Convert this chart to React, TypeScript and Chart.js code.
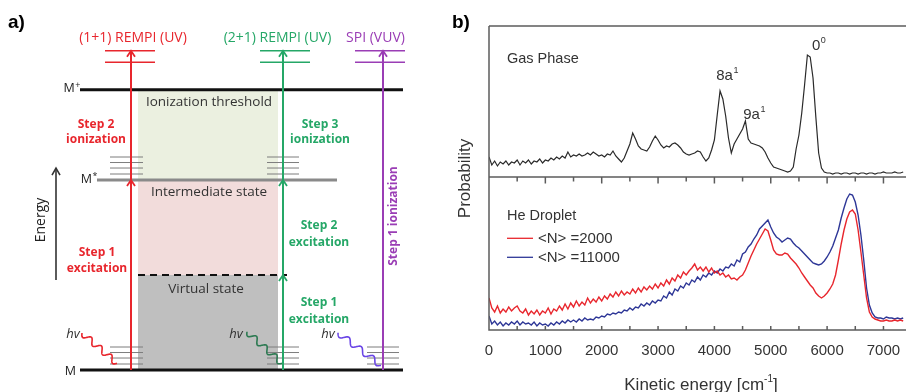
import React, { useEffect, useRef } from 'react';
import { Chart, registerables } from 'chart.js';
Chart.register(...registerables);

// ---------------- Panel b) data ----------------
const energy = [
  0, 50, 100, 150, 200, 250, 300, 350, 400, 450,
  500, 550, 600, 650, 700, 750, 800, 850, 900, 950,
  1000, 1050, 1100, 1150, 1200, 1250, 1300, 1350, 1400, 1450,
  1500, 1550, 1600, 1650, 1700, 1750, 1800, 1850, 1900, 1950,
  2000, 2050, 2100, 2150, 2200, 2250, 2300, 2350, 2400, 2450,
  2500, 2550, 2600, 2650, 2700, 2750, 2800, 2850, 2900, 2950,
  3000, 3050, 3100, 3150, 3200, 3250, 3300, 3350, 3400, 3450,
  3500, 3550, 3600, 3650, 3700, 3750, 3800, 3850, 3900, 3950,
  4000, 4050, 4100, 4150, 4200, 4250, 4300, 4350, 4400, 4450,
  4500, 4550, 4600, 4650, 4700, 4750, 4800, 4850, 4900, 4950,
  5000, 5050, 5100, 5150, 5200, 5250, 5300, 5350, 5400, 5450,
  5500, 5550, 5600, 5650, 5700, 5750, 5800, 5850, 5900, 5950,
  6000, 6050, 6100, 6150, 6200, 6250, 6300, 6350, 6400, 6450,
  6500, 6550, 6600, 6650, 6700, 6750, 6800, 6850, 6900, 6950,
  7000, 7050, 7100, 7150, 7200, 7250, 7300, 7350,
];

const gasPhase = [
  20, 12, 16, 11, 15, 13, 16, 12, 15, 14,
  17, 12, 16, 14, 17, 13, 16, 15, 18, 14,
  17, 16, 19, 17, 20, 18, 21, 19, 25, 20,
  22, 21, 23, 21, 22, 24, 22, 25, 23, 21,
  22, 20, 23, 22, 26, 21, 18, 15, 19, 26,
  33, 44, 38, 31, 28, 27, 26, 30, 36, 41,
  37, 32, 29, 31, 30, 33, 34, 32, 29, 25,
  23, 22, 23, 24, 26, 25, 20, 16, 19, 27,
  37, 62, 86, 78, 61, 39, 24, 33, 38, 43,
  48, 56, 38, 34, 33, 32, 31, 29, 25, 19,
  14, 10, 9, 8, 7, 6, 5, 6, 10, 28,
  42, 64, 92, 122, 120, 99, 60, 24, 9, 5,
  4, 4, 3, 4, 4, 3, 4, 4, 3, 4,
  4, 3, 4, 4, 3, 4, 4, 3, 4, 4,
  5, 4, 4, 4, 5, 4, 4, 5,
];

const dropletN2000 = [
  32, 22, 18, 24, 17, 21, 18, 23, 19, 22,
  24, 19, 17, 21, 15, 19, 16, 20, 15, 19,
  17, 22, 16, 21, 19, 24, 20, 26, 21, 27,
  23, 29, 24, 28, 25, 32, 27, 31, 28, 33,
  29, 34, 31, 36, 33, 38, 34, 39, 35, 38,
  36, 41, 37, 42, 38, 43, 40, 44, 41, 46,
  42, 47, 44, 50, 46, 52, 49, 55, 52, 58,
  55, 59, 62, 66, 60, 63, 59, 63, 58, 62,
  57, 59, 55, 57, 53, 55, 51, 52, 50, 53,
  55, 60, 67, 74, 80, 86, 91, 96, 101, 99,
  90, 80, 76, 75, 75, 77, 76, 72, 69, 66,
  62, 57, 53, 49, 45, 42, 37, 34, 32, 34,
  37, 41, 46, 55, 70, 86, 100, 111, 118, 120,
  116, 100, 78, 55, 32, 18, 13, 11, 10, 9,
  9, 10, 9, 9, 10, 9, 10, 9,
];

const dropletN11000 = [
  14, 6, 9, 5, 8, 4, 7, 5, 8, 6,
  9, 5, 8, 6, 7, 5, 8, 4, 7, 5,
  6, 4, 7, 5, 8, 6, 9, 7, 10, 8,
  10, 8, 11, 9, 12, 10, 11, 10, 13, 12,
  14, 13, 16, 15, 17, 16, 18, 17, 20, 19,
  22, 20, 23, 22, 26, 24, 27, 25, 29, 27,
  30, 29, 34, 32, 38, 35, 41, 39, 44, 42,
  47, 45, 50, 48, 53, 50, 55, 53, 57, 55,
  59, 57, 61, 59, 63, 62, 66, 64, 70, 68,
  76, 78, 83, 86, 91, 95, 101, 104, 107, 110,
  103, 97, 93, 91, 88, 90, 92, 91, 87, 84,
  82, 79, 76, 73, 70, 67, 66, 65, 66, 69,
  73, 78, 84, 92, 100, 112, 122, 131, 136, 135,
  128, 115, 95, 70, 42, 25, 17, 13, 12, 12,
  11, 13, 12, 12, 11, 12, 11, 12,
];

const xMajorTicks = [0, 1000, 2000, 3000, 4000, 5000, 6000, 7000];
const xTickLabels = ['0', '1000', '2000', '3000', '4000', '5000', '6000', '7000'];
const xMinorTicks = [500, 1500, 2500, 3500, 4500, 5500, 6500];
const legendLabels = ['<N> =2000', '<N> =11000'];
const peakLabels = [
  { base: '8a', sup: '1', e: 4180, v: 97 },
  { base: '9a', sup: '1', e: 4660, v: 58 },
  { base: '0', sup: '0', e: 5805, v: 127 },
];

// ---------------- Panel a) data ----------------
const levelE = { M: 0, virtual: 1, Mstar: 2, Mplus: 2.95 };
const photonE = [3.24, 3.36];
const vibOffsets = [0.063, 0.126, 0.184, 0.242];
const schemeNames = ['(1+1) REMPI (UV)', '(2+1) REMPI (UV)', 'SPI (VUV)'];
const stateNames = ['Ionization threshold', 'Intermediate state', 'Virtual state'];

const RED = '#e8262d';
const GREEN = '#25a767';
const PURPLE = '#9a3db5';
const BLUE = '#2e3797';
const FA = '"Open Sans", "Noto Sans", sans-serif';
const FB = '"Liberation Sans", Arial, sans-serif';

function seg(x0: number, e0: number, x1: number, e1: number, color: string, width: number, order: number, dash?: number[]) {
  return {
    data: [{ x: x0, y: e0 }, { x: x1, y: e1 }],
    borderColor: color,
    borderWidth: width,
    borderDash: dash || [],
    showLine: true,
    pointRadius: 0,
    fill: false,
    order,
  };
}

function buildDiagramDatasets() {
  const ds: any[] = [];
  // energy levels
  ds.push(seg(80, levelE.Mplus, 403, levelE.Mplus, '#111111', 3, 2));
  ds.push(seg(97, levelE.Mstar, 337, levelE.Mstar, '#8a8a8a', 3, 2));
  ds.push(seg(80, levelE.M, 403, levelE.M, '#111111', 3, 2));
  ds.push(seg(138, levelE.virtual, 287, levelE.virtual, '#111111', 2.2, 2, [7, 5]));
  // vibrational sub-levels
  const groups = [
    { x0: 110, x1: 143, e: levelE.M },
    { x0: 267, x1: 299, e: levelE.M },
    { x0: 367, x1: 399, e: levelE.M },
    { x0: 110, x1: 143, e: levelE.Mstar },
    { x0: 267, x1: 299, e: levelE.Mstar },
  ];
  for (const g of groups) for (const o of vibOffsets) ds.push(seg(g.x0, g.e + o, g.x1, g.e + o, '#7d7d7d', 1, 3));
  // photon energy marks
  const tops = [
    { x0: 105, x1: 155, c: RED },
    { x0: 260, x1: 310, c: GREEN },
    { x0: 355, x1: 405, c: PURPLE },
  ];
  for (const t of tops) for (const p of photonE) ds.push(seg(t.x0, p, t.x1, p, t.c, 1.6, 1));
  // arrows
  ds.push(seg(131, levelE.M, 131, photonE[1], RED, 2, 0));
  ds.push(seg(283, levelE.M, 283, photonE[1], GREEN, 2, 0));
  ds.push(seg(383, levelE.M, 383, photonE[1], PURPLE, 2, 0));
  // energy axis
  ds.push(seg(56, 0.947, 56, 2.126, '#333333', 1.6, 0));
  return ds;
}

function chevron(ctx: CanvasRenderingContext2D, x: number, y: number, color: string, hw = 4, h = 6, lw = 1.8) {
  ctx.save();
  ctx.strokeStyle = color;
  ctx.lineWidth = lw;
  ctx.beginPath();
  ctx.moveTo(x - hw, y + h);
  ctx.lineTo(x, y);
  ctx.lineTo(x + hw, y + h);
  ctx.stroke();
  ctx.restore();
}

function squiggle(ctx: CanvasRenderingContext2D, x0: number, y0: number, x1: number, y1: number, color: string) {
  const dx = x1 - x0, dy = y1 - y0;
  const len = Math.hypot(dx, dy);
  const ux = dx / len, uy = dy / len;
  const nx = -uy, ny = ux;
  const periods = 3.5, amp = 3;
  ctx.save();
  ctx.strokeStyle = color;
  ctx.lineWidth = 1.6;
  ctx.beginPath();
  for (let i = 0; i <= 120; i++) {
    const t = i / 120;
    const s = Math.sin(t * periods * 2 * Math.PI) * amp;
    const px = x0 + dx * t + nx * s;
    const py = y0 + dy * t + ny * s;
    if (i === 0) ctx.moveTo(px, py); else ctx.lineTo(px, py);
  }
  ctx.stroke();
  ctx.restore();
}

function supText(ctx: CanvasRenderingContext2D, base: string, sup: string, x: number, y: number, font: string, supFont: string, raise: number, align: 'left' | 'center' | 'right' | 'baseCenter', color: string) {
  ctx.save();
  ctx.fillStyle = color;
  ctx.textBaseline = 'alphabetic';
  ctx.textAlign = 'left';
  ctx.font = font;
  const wb = ctx.measureText(base).width;
  ctx.font = supFont;
  const ws = ctx.measureText(sup).width;
  let x0 = x;
  if (align === 'center') x0 = x - (wb + ws) / 2;
  else if (align === 'right') x0 = x - wb - ws;
  else if (align === 'baseCenter') x0 = x - wb / 2;
  ctx.font = font;
  ctx.fillText(base, x0, y);
  ctx.font = supFont;
  ctx.fillText(sup, x0 + wb + 0.5, y - raise);
  ctx.restore();
}

function txt(ctx: CanvasRenderingContext2D, s: string, x: number, y: number, font: string, color: string, align: CanvasTextAlign = 'center', rot = 0) {
  ctx.save();
  ctx.font = font;
  ctx.fillStyle = color;
  ctx.textAlign = align;
  ctx.textBaseline = 'alphabetic';
  ctx.translate(x, y);
  if (rot) ctx.rotate(rot);
  ctx.fillText(s, 0, 0);
  ctx.restore();
}

const diagramPlugin = {
  id: 'diagram',
  beforeDatasetsDraw(chart: any) {
    const { ctx, scales } = chart;
    const X = (v: number) => scales.x.getPixelForValue(v);
    const Y = (v: number) => scales.y.getPixelForValue(v);
    const boxes = [
      { e0: levelE.Mstar, e1: levelE.Mplus, c: '#ebf0e0' },
      { e0: levelE.virtual, e1: levelE.Mstar, c: '#f2dcdb' },
      { e0: levelE.M, e1: levelE.virtual, c: '#bfbfbf' },
    ];
    for (const b of boxes) {
      ctx.fillStyle = b.c;
      ctx.fillRect(X(138), Y(b.e1), X(278) - X(138), Y(b.e0) - Y(b.e1));
    }
  },
  afterDatasetsDraw(chart: any) {
    const { ctx, scales } = chart;
    const X = (v: number) => scales.x.getPixelForValue(v);
    const Y = (v: number) => scales.y.getPixelForValue(v);
    // arrowheads
    chevron(ctx, X(131), Y(photonE[1]), RED);
    chevron(ctx, X(131), Y(levelE.Mstar), RED);
    chevron(ctx, X(283), Y(photonE[1]), GREEN);
    chevron(ctx, X(283), Y(levelE.Mstar), GREEN);
    chevron(ctx, X(283), Y(levelE.virtual), GREEN);
    chevron(ctx, X(383), Y(photonE[1]), PURPLE);
    chevron(ctx, X(56), Y(2.126), '#333333', 4, 7, 1.6);
    // photons
    squiggle(ctx, X(82), Y(0.389), X(117), Y(0.07), RED);
    squiggle(ctx, X(247), Y(0.403), X(282), Y(0.07), '#2d7a52');
    squiggle(ctx, X(338), Y(0.392), X(381), Y(0.05), '#6a45e6');
    // titles
    txt(ctx, schemeNames[0], X(133), Y(3.456), `14px ${FA}`, RED);
    txt(ctx, schemeNames[1], X(277.5), Y(3.456), `14px ${FA}`, GREEN);
    txt(ctx, schemeNames[2], X(375.5), Y(3.456), `14px ${FA}`, PURPLE);
    // panel label
    txt(ctx, 'a)', 8, 28, `bold 19px ${FB}`, '#000', 'left');
    // level labels
    supText(ctx, 'M', '+', X(80), Y(2.929), `12.5px ${FA}`, `9px ${FA}`, 4, 'right', '#222');
    supText(ctx, 'M', '*', X(97), Y(1.968), `12.5px ${FA}`, `9px ${FA}`, 4, 'right', '#222');
    txt(ctx, 'M', X(76), Y(-0.053), `12.5px ${FA}`, '#222', 'right');
    // state names
    txt(ctx, stateNames[0], X(209), Y(2.779), `13.5px ${FA}`, '#333');
    txt(ctx, stateNames[1], X(209), Y(1.832), `13.5px ${FA}`, '#333');
    txt(ctx, stateNames[2], X(206), Y(0.811), `13.5px ${FA}`, '#333');
    // step labels
    const bf = `bold 12px ${FA}`;
    txt(ctx, 'Step 2', X(96), Y(2.547), bf, RED);
    txt(ctx, 'ionization', X(96), Y(2.389), bf, RED);
    txt(ctx, 'Step 1', X(97), Y(1.2), bf, RED);
    txt(ctx, 'excitation', X(97), Y(1.032), bf, RED);
    txt(ctx, 'Step 3', X(320), Y(2.547), bf, GREEN);
    txt(ctx, 'ionization', X(320), Y(2.389), bf, GREEN);
    txt(ctx, 'Step 2', X(319), Y(1.484), bf, GREEN);
    txt(ctx, 'excitation', X(319), Y(1.305), bf, GREEN);
    txt(ctx, 'Step 1', X(319), Y(0.674), bf, GREEN);
    txt(ctx, 'excitation', X(319), Y(0.495), bf, GREEN);
    txt(ctx, 'Step 1 ionization', X(397), Y(1.621), bf, PURPLE, 'center', -Math.PI / 2);
    // hv
    const itf = `italic 13px ${FA}`;
    txt(ctx, 'hv', X(73), Y(0.337), itf, '#333');
    txt(ctx, 'hv', X(236), Y(0.337), itf, '#333');
    txt(ctx, 'hv', X(328), Y(0.337), itf, '#333');
    // energy axis label
    txt(ctx, 'Energy', X(45), Y(1.579), `14px ${FA}`, '#222', 'center', -Math.PI / 2);
  },
};

const AX = '#5c5c5c';

const topPlugin = {
  id: 'topPanel',
  afterDraw(chart: any) {
    const { ctx, chartArea: a, scales } = chart;
    ctx.save();
    ctx.strokeStyle = AX;
    ctx.lineWidth = 1.5;
    ctx.beginPath();
    ctx.moveTo(a.left, a.top);
    ctx.lineTo(a.right, a.top);
    ctx.moveTo(a.left, a.top);
    ctx.lineTo(a.left, a.bottom);
    ctx.stroke();
    ctx.restore();
    txt(ctx, 'Gas Phase', 67, 63, `14.5px ${FB}`, '#333', 'left');
    for (const p of peakLabels) {
      supText(ctx, p.base, p.sup, scales.x.getPixelForValue(p.e), scales.y.getPixelForValue(p.v), `15px ${FB}`, `9px ${FB}`, 7, 'baseCenter', '#333');
    }
    txt(ctx, 'b)', 12, 28, `bold 19px ${FB}`, '#000', 'left');
    txt(ctx, 'Probability', 30, 178.5, `17px ${FB}`, '#333', 'center', -Math.PI / 2);
  },
};

const bottomPlugin = {
  id: 'bottomPanel',
  afterDraw(chart: any) {
    const { ctx, chartArea: a, scales } = chart;
    const X = (v: number) => scales.x.getPixelForValue(v);
    ctx.save();
    ctx.strokeStyle = AX;
    ctx.lineWidth = 1.5;
    ctx.beginPath();
    ctx.moveTo(a.left, a.top);
    ctx.lineTo(a.right, a.top);
    ctx.moveTo(a.left, a.top);
    ctx.lineTo(a.left, a.bottom);
    ctx.lineTo(a.right, a.bottom);
    for (const t of xMajorTicks) {
      ctx.moveTo(X(t), a.top);
      ctx.lineTo(X(t), a.top + 6.5);
      ctx.moveTo(X(t), a.bottom);
      ctx.lineTo(X(t), a.bottom - 4);
    }
    for (const t of xMinorTicks) {
      ctx.moveTo(X(t), a.top);
      ctx.lineTo(X(t), a.top + 4.5);
      ctx.moveTo(X(t), a.bottom);
      ctx.lineTo(X(t), a.bottom - 4);
    }
    ctx.stroke();
    ctx.restore();
    xMajorTicks.forEach((t, i) => txt(ctx, xTickLabels[i], X(t), 355, `15px ${FB}`, '#333'));
    // axis title
    ctx.save();
    ctx.fillStyle = '#333';
    ctx.textBaseline = 'alphabetic';
    ctx.textAlign = 'left';
    const f = `17px ${FB}`, fs = `10px ${FB}`;
    ctx.font = f;
    const w1 = ctx.measureText('Kinetic energy [cm').width;
    const w3 = ctx.measureText(']').width;
    ctx.font = fs;
    const w2 = ctx.measureText('-1').width;
    const x0 = 261 - (w1 + w2 + w3) / 2;
    ctx.font = f;
    ctx.fillText('Kinetic energy [cm', x0, 390);
    ctx.font = fs;
    ctx.fillText('-1', x0 + w1, 382);
    ctx.font = f;
    ctx.fillText(']', x0 + w1 + w2, 390);
    ctx.restore();
    // label + legend
    txt(ctx, 'He Droplet', 67, 220, `14.5px ${FB}`, '#333', 'left');
    const legendColors = [RED, BLUE];
    const ly = [238.3, 257.3];
    legendColors.forEach((c, i) => {
      ctx.save();
      ctx.strokeStyle = c;
      ctx.lineWidth = 1.3;
      ctx.beginPath();
      ctx.moveTo(67, ly[i]);
      ctx.lineTo(93, ly[i]);
      ctx.stroke();
      ctx.restore();
      txt(ctx, legendLabels[i], 98, ly[i] + 4.5, `15px ${FB}`, '#333', 'left');
    });
  },
};

function lineDs(values: number[], color: string, width: number) {
  return {
    data: energy.map((e, i) => ({ x: e, y: values[i] })),
    borderColor: color,
    borderWidth: width,
    pointRadius: 0,
    fill: false,
    tension: 0,
  };
}

function baseOptions(padding: any, ymax: number) {
  return {
    responsive: false,
    maintainAspectRatio: false,
    animation: false as const,
    events: [] as any[],
    layout: { padding },
    scales: {
      x: { type: 'linear' as const, min: 0, max: 7400, display: false },
      y: { type: 'linear' as const, min: 0, max: ymax, display: false },
    },
    plugins: { legend: { display: false }, tooltip: { enabled: false } },
  };
}

export default function App() {
  const diagRef = useRef<HTMLCanvasElement>(null);
  const topRef = useRef<HTMLCanvasElement>(null);
  const botRef = useRef<HTMLCanvasElement>(null);

  useEffect(() => {
    document.body.style.margin = '0';
    const charts: Chart[] = [];
    charts.push(new Chart(diagRef.current!, {
      type: 'scatter',
      data: { datasets: buildDiagramDatasets() },
      options: {
        responsive: false,
        maintainAspectRatio: false,
        animation: false,
        events: [],
        layout: { padding: 0 },
        scales: {
          x: { type: 'linear', min: 0, max: 440, display: false },
          y: { type: 'linear', min: -22 / 95, max: 370 / 95, display: false },
        },
        plugins: { legend: { display: false }, tooltip: { enabled: false } },
      } as any,
      plugins: [diagramPlugin],
    }));
    charts.push(new Chart(topRef.current!, {
      type: 'line',
      data: { datasets: [lineDs(gasPhase, '#2a2a2a', 1.2)] },
      options: baseOptions({ left: 49, right: 0, top: 26, bottom: 215 }, 151) as any,
      plugins: [topPlugin],
    }));
    charts.push(new Chart(botRef.current!, {
      type: 'line',
      data: { datasets: [lineDs(dropletN2000, RED, 1.4), lineDs(dropletN11000, BLUE, 1.4)] },
      options: baseOptions({ left: 49, right: 0, top: 177, bottom: 62 }, 153) as any,
      plugins: [bottomPlugin],
    }));
    return () => charts.forEach((c) => c.destroy());
  }, []);

  const cs = (left: number, w: number): React.CSSProperties => ({ position: 'absolute', left, top: 0, width: w, height: 392, display: 'block' });
  return (
    <div style={{ position: 'relative', width: 906, height: 392, background: '#fff', overflow: 'hidden' }}>
      <canvas ref={diagRef} width={440} height={392} style={cs(0, 440)} />
      <canvas ref={topRef} width={466} height={392} style={cs(440, 466)} />
      <canvas ref={botRef} width={466} height={392} style={cs(440, 466)} />
    </div>
  );
}
